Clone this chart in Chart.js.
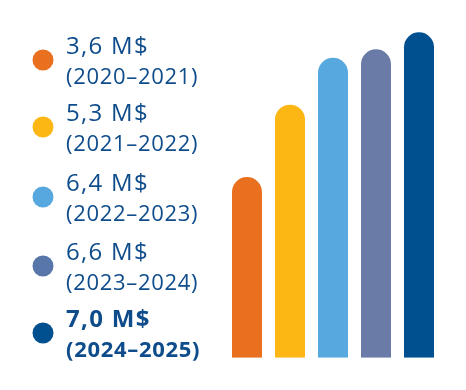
<!DOCTYPE html>
<html><head><meta charset="utf-8">
<script src="https://cdn.jsdelivr.net/npm/chart.js@4.4.1/dist/chart.umd.min.js"></script>
<style>
html,body{margin:0;padding:0;background:#fff;}
#wrap{position:relative;width:466px;height:390px;}
#c{position:absolute;left:0;top:0;}
#leg{position:absolute;left:0;top:0;}
#leg text{font-family:"Open Sans",sans-serif;fill:#0F4C8B;}
</style></head>
<body>
<div id="wrap">
<canvas id="c" width="466" height="390"></canvas>
<svg id="leg" width="220" height="390" xmlns="http://www.w3.org/2000/svg"></svg>
</div>
<script>
const periods = ["(2020–2021)", "(2021–2022)", "(2022–2023)", "(2023–2024)", "(2024–2025)"];
const amountLabels = ["3,6 M$", "5,3 M$", "6,4 M$", "6,6 M$", "7,0 M$"];
const values = [3.6, 5.3, 6.4, 6.6, 7.0];
const barColors = ["#E8701E", "#FDB714", "#57A8DE", "#6A7BA8", "#00508F"];
const dotColors = ["#E8701E", "#FDB714", "#57A8DE", "#5876AA", "#00508F"];
const boldFlags = [false, false, false, false, true];

const yMin = -0.64, yMax = 7.3;

new Chart(document.getElementById('c'), {
  type: 'bar',
  data: {
    labels: periods,
    datasets: [{
      data: values,
      backgroundColor: barColors,
      borderRadius: 15,
      borderSkipped: 'start',
      base: yMin,
      barPercentage: 0.698,
      categoryPercentage: 1.0
    }]
  },
  options: {
    responsive: false,
    animation: false,
    layout: { padding: { left: 225.5, right: 25.5, top: 19.5, bottom: 32.3 } },
    plugins: { legend: { display: false }, tooltip: { enabled: false } },
    scales: {
      x: { display: false },
      y: { display: false, min: yMin, max: yMax }
    }
  }
});

// legend
const svg = document.getElementById('leg');
const NS = "http://www.w3.org/2000/svg";
const line1Base = [54, 121, 191, 260, 327];
periods.forEach((p, i) => {
  const b = line1Base[i];
  const c = document.createElementNS(NS, 'circle');
  c.setAttribute('cx', 43); c.setAttribute('cy', b + 6);
  c.setAttribute('r', 10.5); c.setAttribute('fill', dotColors[i]);
  svg.appendChild(c);
  const t1 = document.createElementNS(NS, 'text');
  t1.setAttribute('x', 66); t1.setAttribute('y', b);
  t1.setAttribute('font-size', 24);
  t1.setAttribute('letter-spacing', '1.3');
  if (boldFlags[i]) t1.setAttribute('font-weight', 'bold');
  t1.textContent = amountLabels[i];
  svg.appendChild(t1);
  const t2 = document.createElementNS(NS, 'text');
  t2.setAttribute('x', 66); t2.setAttribute('y', b + 30);
  t2.setAttribute('font-size', 22);
  t2.setAttribute('letter-spacing', '0.7');
  if (boldFlags[i]) t2.setAttribute('font-weight', 'bold');
  t2.textContent = p;
  svg.appendChild(t2);
});
</script>
</body></html>
